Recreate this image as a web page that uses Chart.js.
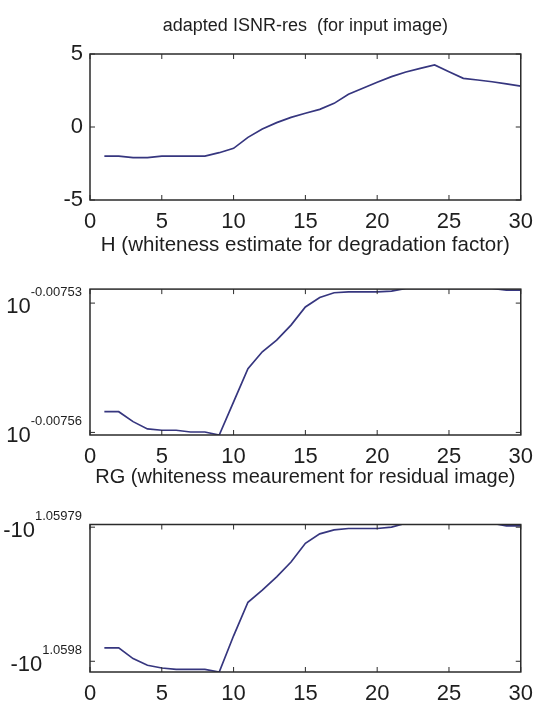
<!DOCTYPE html>
<html>
<head>
<meta charset="utf-8">
<script src="https://cdn.jsdelivr.net/npm/chart.js@4.4.1/dist/chart.umd.min.js"></script>
<style>
  html, body { margin: 0; padding: 0; background: #fff; }
  #wrap { position: relative; width: 542px; height: 707px; overflow: hidden; }
  .plot { position: absolute; left: 0; width: 542px; }
</style>
</head>
<body>
<div id="wrap">
  <div class="plot" style="top:0px;height:232px"><canvas id="isnrChart"></canvas></div>
  <div class="plot" style="top:230px;height:240px"><canvas id="hChart"></canvas></div>
  <div class="plot" style="top:462px;height:245px"><canvas id="rgChart"></canvas></div>
</div>
<script>
// iteration index (x axis of all three plots)
const iterations = [1,2,3,4,5,6,7,8,9,10,11,12,13,14,15,16,17,18,19,20,21,22,23,24,25,26,27,28,29,30];

// adapted ISNR-res
const isnrRes = [-2.0,-2.0,-2.1,-2.1,-2.0,-2.0,-2.0,-2.0,-1.76,-1.46,-0.71,-0.14,0.30,0.66,0.94,
                 1.21,1.62,2.24,2.65,3.06,3.45,3.77,4.02,4.25,3.79,3.33,3.22,3.10,2.95,2.80];

// H, stored as its log10 (H = 10^e)
const hExponent = [-0.0075552,-0.0075552,-0.0075575,-0.0075592,-0.0075595,-0.0075595,-0.0075599,-0.0075599,
                   -0.0075606,-0.0075529,-0.0075452,-0.0075413,-0.0075386,-0.0075351,-0.0075309,-0.0075287,
                   -0.0075276,-0.0075274,-0.0075274,-0.0075274,-0.0075272,-0.0075266,-0.0075266,-0.0075266,
                   -0.0075266,-0.0075266,-0.0075266,-0.0075266,-0.0075270,-0.0075270];

// RG, stored as the log10 of its magnitude (RG = -10^e)
const rgExponent = [1.0597990,1.0597990,1.0597998,1.0598003,1.0598005,1.0598006,1.0598006,1.0598006,
                    1.0598008,1.0597981,1.0597956,1.0597947,1.0597937,1.0597926,1.0597912,1.0597905,
                    1.0597902,1.0597901,1.0597901,1.0597901,1.0597900,1.0597897,1.0597897,1.0597897,
                    1.0597897,1.0597897,1.0597897,1.0597897,1.0597899,1.0597899];

// tick values
const isnrTicks = [-5, 0, 5];
const hTicks = [-0.00756, -0.00753];
const rgTicks = [1.05979, 1.0598];

const FONT = "'Liberation Sans Narrow', 'Liberation Sans', Arial, sans-serif";
const INK = '#1e1e1e';
const LINE = '#36367f';

// MATLAB-style frame with inward ticks on all four sides
const boxPlugin = {
  id: 'matlabBox',
  afterDatasetsDraw(chart) {
    const { ctx, chartArea: a, scales } = chart;
    ctx.save();
    ctx.strokeStyle = '#2b2b2b';
    ctx.lineWidth = 1.5;
    ctx.strokeRect(a.left, a.top, a.right - a.left, a.bottom - a.top);
    ctx.lineWidth = 1;
    ctx.beginPath();
    scales.x.ticks.forEach(t => {
      const px = scales.x.getPixelForValue(t.value);
      ctx.moveTo(px, a.bottom); ctx.lineTo(px, a.bottom - 5);
      ctx.moveTo(px, a.top); ctx.lineTo(px, a.top + 5);
    });
    scales.y.ticks.forEach(t => {
      const py = scales.y.getPixelForValue(t.value);
      ctx.moveTo(a.left, py); ctx.lineTo(a.left + 5, py);
      ctx.moveTo(a.right, py); ctx.lineTo(a.right - 5, py);
    });
    ctx.stroke();
    ctx.restore();
  }
};

// y tick labels written as base^exponent
const powerLabels = {
  id: 'powerLabels',
  afterDraw(chart, args, opts) {
    const { ctx, chartArea: a, scales } = chart;
    ctx.save();
    ctx.fillStyle = INK;
    ctx.textAlign = 'right';
    scales.y.ticks.forEach(t => {
      const py = scales.y.getPixelForValue(t.value);
      const sup = String(t.value);
      const right = a.left - 8;
      ctx.font = '13px ' + FONT;
      ctx.textBaseline = 'alphabetic';
      ctx.fillText(sup, right, py - 7);
      const w = ctx.measureText(sup).width;
      ctx.font = '22px ' + FONT;
      ctx.textBaseline = 'middle';
      ctx.fillText(opts.base, right - w, py + 4);
    });
    ctx.restore();
  }
};

function makeChart(id, cfg) {
  const yScale = {
    min: cfg.min, max: cfg.max, reverse: !!cfg.reverse,
    grid: { display: false, drawTicks: false },
    border: { display: false },
    ticks: { display: !cfg.base, padding: 7, color: INK, font: { family: FONT, size: 22 } },
    afterBuildTicks: s => { s.ticks = cfg.ticks.map(v => ({ value: v })); },
    afterFit: s => { s.width = 90; }
  };
  const plugins = [boxPlugin];
  if (cfg.base) plugins.push(powerLabels);
  return new Chart(document.getElementById(id), {
    type: 'line',
    data: {
      datasets: [{
        data: iterations.map((x, i) => ({ x: x, y: cfg.values[i] })),
        borderColor: LINE,
        borderWidth: 1.7,
        pointRadius: 0,
        tension: 0
      }]
    },
    plugins: plugins,
    options: {
      responsive: true,
      maintainAspectRatio: false,
      animation: false,
      layout: { padding: { left: 0, right: 10, top: 0, bottom: 0 } },
      scales: {
        x: {
          type: 'linear', min: 0, max: 30,
          grid: { display: false, drawTicks: false },
          border: { display: false },
          ticks: { stepSize: 5, padding: 9, color: INK, font: { family: FONT, size: 22 } },
          afterFit: s => { s.height = cfg.xHeight; }
        },
        y: yScale
      },
      plugins: {
        legend: { display: false },
        tooltip: { enabled: false },
        title: {
          display: true, text: cfg.title, fullSize: false, color: INK,
          font: { family: FONT, size: cfg.titleSize, weight: 'normal', lineHeight: 1.2 },
          padding: cfg.titlePad
        },
        powerLabels: { base: cfg.base }
      }
    }
  });
}

makeChart('isnrChart', {
  title: 'adapted ISNR-res  (for input image)', titleSize: 18,
  values: isnrRes, min: -5, max: 5, ticks: isnrTicks,
  titlePad: { top: 15, bottom: 17.4 }, xHeight: 32
});
makeChart('hChart', {
  title: 'H (whiteness estimate for degradation factor)', titleSize: 20.5,
  values: hExponent, min: -0.0075606, max: -0.00752675, ticks: hTicks, base: '10',
  titlePad: { top: 3.5, bottom: 31 }, xHeight: 35
});
makeChart('rgChart', {
  title: 'RG (whiteness meaurement for residual image)', titleSize: 20,
  values: rgExponent, min: 1.0597898, max: 1.0598008, reverse: true, ticks: rgTicks, base: '-10',
  titlePad: { top: 3.5, bottom: 35 }, xHeight: 35
});
</script>
</body>
</html>
